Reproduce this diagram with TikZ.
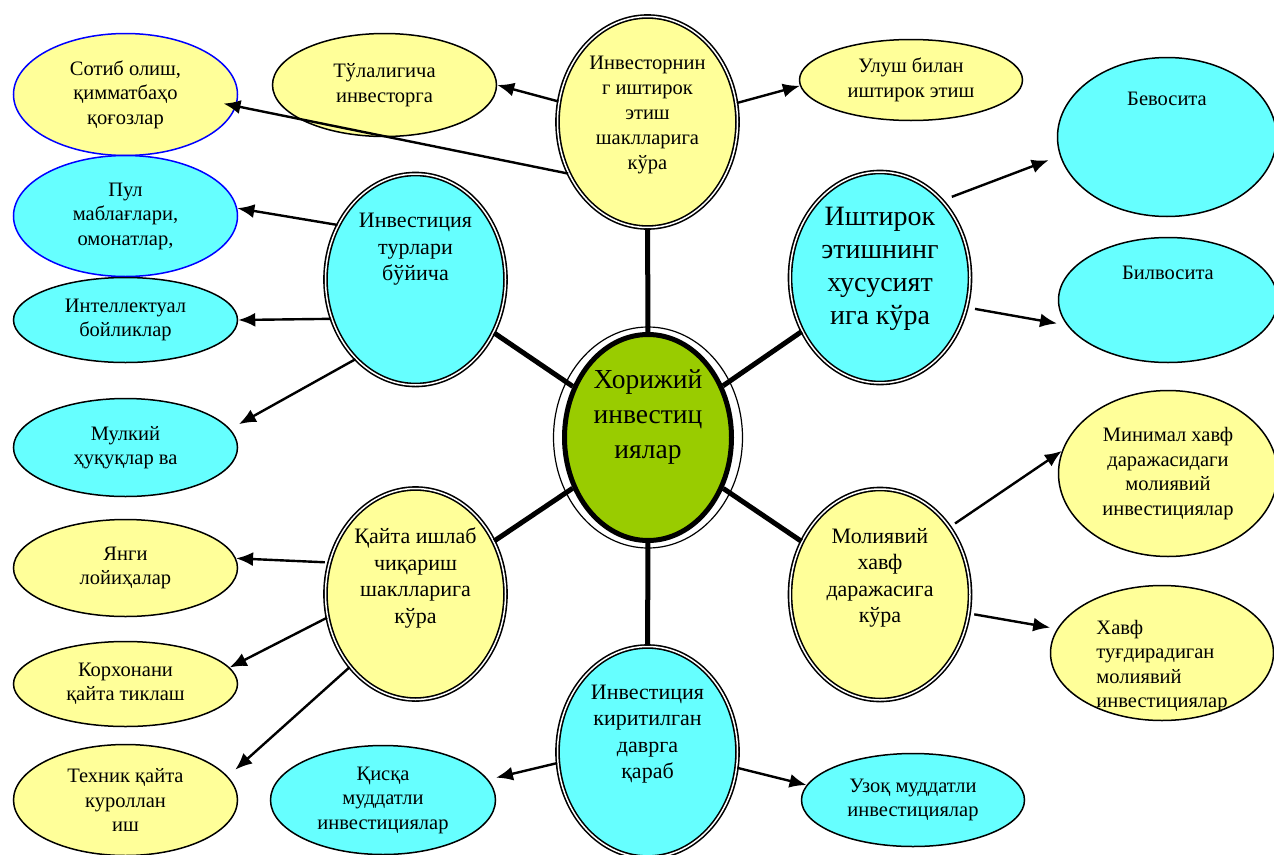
\documentclass[tikz,border=0pt]{standalone}
\usepackage{fontspec}
\setmainfont{Liberation Serif}
\usetikzlibrary{shapes.geometric,arrows.meta,positioning}
\definecolor{Lemon}{HTML}{FFFF99}
\definecolor{Aqua}{HTML}{66FFFF}
\definecolor{Olive}{HTML}{99CC00}
\tikzset{hub/.style ={
        ellipse,
        draw=black,
        line width=1.6pt,
        double=white,
        double distance=1.5pt,
        minimum width=180pt,
        minimum height=211pt,
        inner sep=0pt,
    },
    leaf/.style={
        ellipse,
        draw=black,
        line width=1.5pt,
        inner sep=0pt,
        align=center,
        font=\fontsize{20.5}{24.5}\selectfont,
    },
    txt/.style ={
        inner sep=0pt,
        align=center,
        font=\fontsize{20.5}{24.5}\selectfont,
    },
    hubtxt/.style ={
        inner sep=0pt,
        align=center,
        font=\fontsize{22}{26.5}\selectfont,
    },
    feed/.style ={
        draw,
        line width=2.4pt,
        -{Latex[length=17pt,width=14pt]},
    },
    spoke/.style ={
        draw,
        line width=5pt,
    }}

\begin{document}
\begin{tikzpicture}[x=1pt,y=-1pt]
	\path[use as bounding box, fill=white] (0,0) rectangle (1274,854);

	% left column
	\node[leaf, fill=Lemon, draw=blue, minimum width=224pt, minimum height=122pt] (sotib) at (125.5,94.5) {Сотиб олиш,\\қимматбаҳо\\қоғозлар};
	\node[leaf, fill=Aqua, draw=blue, minimum width=224pt, minimum height=121pt] (pul) at (125.5,216) {Пул\\маблағлари,\\омонатлар,};
	\node[leaf, fill=Aqua, minimum width=224pt, minimum height=85pt] (intel) at (125.5,320) {Интеллектуал\\бойликлар};
	\node[leaf, fill=Aqua, minimum width=224pt, minimum height=98pt] (mulk) at (125.5,447.5) {Мулкий\\ҳуқуқлар ва};
	\node[leaf, fill=Lemon, minimum width=224pt, minimum height=97pt] (yangi) at (125.5,568) {Янги\\лойиҳалар};
	\node[leaf, fill=Lemon, minimum width=224pt, minimum height=85pt] (korx) at (125.5,684) {Корхонани\\қайта тиклаш};
	\node[leaf, fill=Lemon, minimum width=224pt, minimum height=111pt] (tekh) at (125.5,800) {Техник қайта\\куроллан\\иш};

	% top and bottom rows
	\node[leaf, fill=Lemon, minimum width=224pt, minimum height=103pt] (tula) at (384.5,85) {Тўлалигича\\инвесторга};
	\node[leaf, fill=Lemon, minimum width=223pt, minimum height=81pt] (ulush) at (911,80) {Улуш билан\\иштирок этиш};
	\node[leaf, fill=Aqua, minimum width=225pt, minimum height=109pt] (qisqa) at (383,800) {Қисқа\\муддатли\\инвестициялар};
	\node[leaf, fill=Aqua, minimum width=223pt, minimum height=93pt] (uzoq) at (913,800) {Узоқ муддатли\\инвестициялар};

	% right column
	\node[leaf, fill=Aqua, minimum width=219pt, minimum height=159pt] (bevo) at (1167,137) {};
	\node[leaf, fill=Aqua, minimum width=219pt, minimum height=125pt] (bilvo) at (1168,300) {};
	\node[leaf, fill=Lemon, minimum width=219pt, minimum height=166pt] (mini) at (1168,473.5) {Минимал хавф\\даражасидаги\\молиявий\\инвестициялар};
	\node[leaf, fill=Lemon, minimum width=223pt, minimum height=135pt] (xavf) at (1162,653) {};
	\node[txt, below=35pt of bevo.north] (bevotxt) {Бевосита};
	\node[txt, below=29pt of bilvo.north] (bilvotxt) {Билвосита};
	\node[txt, align=left, below=35pt of xavf.north] (xavftxt) {Хавф\\туғдирадиган\\молиявий\\инвестициялар};

	% hubs
	\node[hub, fill=Lemon] (hubtop) at (647.5,122) {};
	\node[hub, fill=Aqua] (hubl) at (415.5,279.5) {};
	\node[hub, fill=Aqua] (hubr) at (880,277.5) {};
	\node[hub, fill=Lemon] (hubll) at (415.5,594) {};
	\node[hub, fill=Lemon] (hubrl) at (880,594.5) {};
	\node[hub, fill=Aqua] (hubb) at (647.5,752) {};
	\node[ellipse, draw, line width=5pt, fill=Olive, minimum width=167pt, minimum height=206pt] (core) at (648,437.5) {};
	\draw[line width=1.2pt] (core.center) ellipse [x radius=94.5, y radius=110.5];

	\node[hubtxt, font=\fontsize{20.5}{25}\selectfont, below=40pt of hubtop.north] (hubtoptxt) {Инвесторнин\\г иштирок\\этиш\\шаклларига\\кўра};
	\node[hubtxt, below=40pt of hubl.north] (hubltxt) {Инвестиция\\турлари\\бўйича};
	\node[hubtxt, font=\fontsize{28}{33}\selectfont, below=36pt of hubr.north] (hubrtxt) {Иштирок\\этишнинг\\хусусият\\ига кўра};
	\node[hubtxt, below=40pt of hubll.north] (hublltxt) {Қайта ишлаб\\чиқариш\\шаклларига\\кўра};
	\node[hubtxt, below=40pt of hubrl.north] (hubrltxt) {Молиявий\\хавф\\даражасига\\кўра};
	\node[hubtxt, below=39pt of hubb.north] (hubbtxt) {Инвестиция\\киритилган\\даврга\\қараб};
	\node[hubtxt, font=\fontsize{27.5}{35}\selectfont, below=37pt of core.north] (coretxt) {Хорижий\\инвестиц\\иялар};

	\draw[spoke] (core) -- (hubtop);
	\draw[spoke] (core) -- (hubl);
	\draw[spoke] (core) -- (hubr);
	\draw[spoke] (core) -- (hubll);
	\draw[spoke] (core) -- (hubrl);
	\draw[spoke] (core) -- (hubb);

	\draw[feed] (hubtop.167) -- (tula.0);
	\draw[feed, shorten >=-13pt] (hubtop.213) -- (sotib.-6);
	\draw[feed] (hubtop.12) -- (ulush.183);
	\draw[feed] (hubl.145) -- (pul.4);
	\draw[feed] (hubl.205) -- (intel.0);
	\draw[feed, shorten >=10pt] (hubl.233) -- (mulk.10);
	\draw[feed, shorten <=4pt] (hubll.160) -- (yangi.5);
	\draw[feed] (hubll.195) -- (korx.9);
	\draw[feed, shorten >=10pt] (hubll.228) -- (tekh.13);
	\draw[feed, shorten >=8pt] (hubb.187) -- (qisqa.11);
	\draw[feed] (hubb.-10) -- (uzoq.172);
	\draw[feed, shorten <=10pt, shorten >=12pt] (hubr.51) -- (bevo.190);
	\draw[feed, shorten <=8pt, shorten >=10pt] (hubr.-19) -- (bilvo.194);
	\draw[feed, shorten <=6pt] (hubrl.44) -- (mini.168);
	\draw[feed, shorten <=5pt, shorten >=7pt] (hubrl.-12) -- (xavf.167);
\end{tikzpicture}
\end{document}
